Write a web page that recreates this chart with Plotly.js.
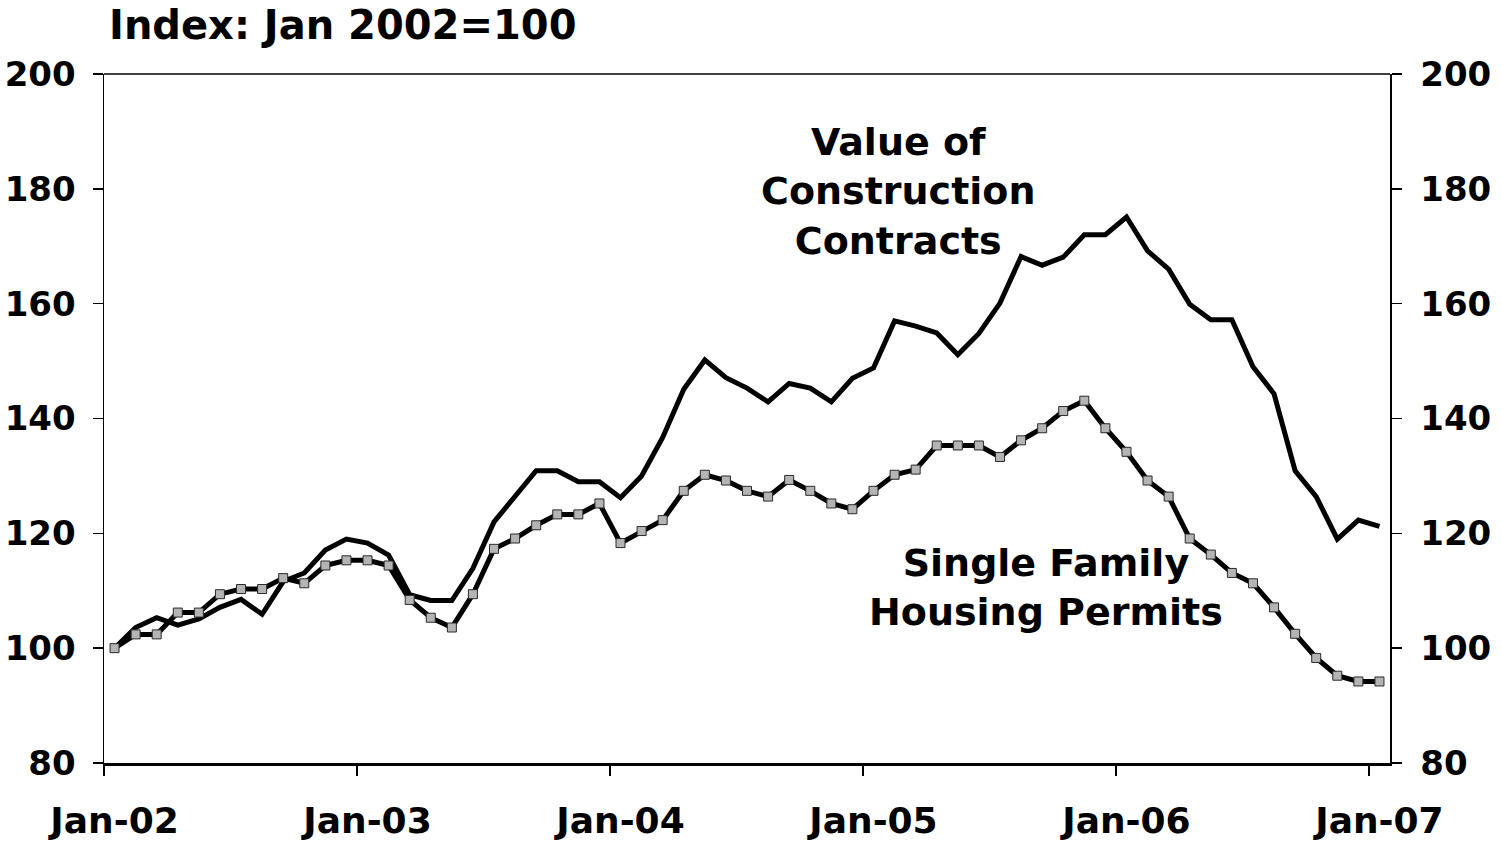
<!DOCTYPE html>
<html>
<head>
<meta charset="utf-8">
<script src="https://cdn.plot.ly/plotly-3.0.1.min.js"></script>
<style>html,body{margin:0;padding:0;background:#fff;}#chart{width:1501px;height:841px;}</style>
</head>
<body>
<div id="chart"></div>
<script>
// Monthly, Jan 2002 .. Jan 2007 (61 months)
const tickLabels = ["Jan-02", "Jan-03", "Jan-04", "Jan-05", "Jan-06", "Jan-07"];
const constructionContracts = [
  100, 103.6, 105.3, 104.0, 105.1, 107.1, 108.5, 105.9, 111.6, 113.1, 117.1, 119.0,
  118.3, 116.2, 109.3, 108.3, 108.3, 113.9, 122.0, 126.4, 130.9, 130.9, 129.0, 129.0,
  126.2, 130.0, 136.7, 145.1, 150.2, 147.1, 145.3, 142.9, 146.1, 145.3, 142.9, 147.0,
  148.8, 157.0, 156.1, 154.9, 151.1, 154.8, 160.1, 168.2, 166.7, 168.1, 172.0, 172.0,
  175.1, 169.2, 166.0, 159.9, 157.2, 157.2, 149.0, 144.3, 130.9, 126.4, 119.0, 122.3,
  121.2
];
const singleFamilyPermits = [
  100, 102.4, 102.4, 106.2, 106.2, 109.4, 110.3, 110.3, 112.2, 111.3, 114.4, 115.3,
  115.3, 114.4, 108.4, 105.3, 103.6, 109.4, 117.3, 119.1, 121.4, 123.3, 123.3, 125.2,
  118.3, 120.4, 122.3, 127.4, 130.2, 129.2, 127.4, 126.4, 129.3, 127.4, 125.2, 124.2,
  127.4, 130.2, 131.1, 135.3, 135.3, 135.3, 133.3, 136.2, 138.3, 141.3, 143.1, 138.3,
  134.2, 129.2, 126.4, 119.1, 116.3, 113.1, 111.3, 107.1, 102.5, 98.3, 95.2, 94.2,
  94.2
];

const monthIdx = constructionContracts.map((_, i) => i);
const labelVals = tickLabels.map((_, k) => k * 12);
const boundaryVals = tickLabels.map((_, k) => k * 12 - 0.5);

const FONT = "DejaVu Sans, Verdana, sans-serif";

const traces = [
  {
    x: monthIdx, y: constructionContracts, type: "scatter", mode: "lines",
    line: {color: "#000000", width: 5}, name: "Value of Construction Contracts",
    xaxis: "x", yaxis: "y", hoverinfo: "skip"
  },
  {
    x: monthIdx, y: singleFamilyPermits, type: "scatter", mode: "lines+markers",
    line: {color: "#000000", width: 5},
    marker: {symbol: "square", size: 9, color: "#b4b4b4", line: {color: "#2a2a2a", width: 1}},
    name: "Single Family Housing Permits", xaxis: "x2", yaxis: "y2", hoverinfo: "skip"
  }
];

const yCommon = {
  range: [80, 200], dtick: 20, tick0: 80, showgrid: false, zeroline: false,
  showline: true, linecolor: "#000", linewidth: 1.5,
  ticks: "outside", ticklen: 10, tickwidth: 1.5, tickcolor: "#000",
  tickfont: {family: FONT, size: 34, color: "#000", weight: "bold"}
};

const layout = {
  width: 1501, height: 841,
  margin: {l: 104, r: 111, t: 74, b: 78},
  paper_bgcolor: "#fff", plot_bgcolor: "#fff",
  showlegend: false,
  font: {family: FONT, color: "#000", weight: "bold"},
  xaxis: {
    range: [-0.5, 60.5], showgrid: false, zeroline: false,
    tickmode: "array", tickvals: labelVals, ticktext: tickLabels,
    ticks: "", ticklabelstandoff: 24,
    showline: true, linecolor: "#000", linewidth: 3,
    tickfont: {family: FONT, size: 36, color: "#000", weight: "bold"}
  },
  xaxis2: {
    range: [-0.5, 60.5], overlaying: "x", anchor: "y2", side: "bottom",
    showgrid: false, zeroline: false, showline: false,
    tickmode: "array", tickvals: boundaryVals, showticklabels: false,
    ticks: "outside", ticklen: 12, tickwidth: 1.5, tickcolor: "#000"
  },
  yaxis: Object.assign({}, yCommon, {side: "left", ticklabelstandoff: 10}),
  yaxis2: Object.assign({}, yCommon, {side: "right", overlaying: "y", anchor: "x2", ticklabelstandoff: 12}),
  shapes: [
    {type: "line", xref: "paper", yref: "paper", x0: 0, x1: 1, y0: 1, y1: 1,
     line: {color: "#000", width: 1.5}}
  ],
  annotations: [
    {text: "Index: Jan 2002=100", xref: "paper", yref: "paper", x: 0.002, y: 1.071,
     xanchor: "left", yanchor: "middle", showarrow: false,
     font: {family: FONT, size: 40, color: "#000", weight: "bold"}},
    {text: "Value of<br>Construction<br>Contracts", xref: "x", yref: "y", x: 37.2, y: 179.6,
     xanchor: "center", yanchor: "middle", showarrow: false,
     font: {family: FONT, size: 38, color: "#000", weight: "bold"}},
    {text: "Single Family<br>Housing Permits", xref: "x", yref: "y", x: 44.2, y: 110.6,
     xanchor: "center", yanchor: "middle", showarrow: false,
     font: {family: FONT, size: 38, color: "#000", weight: "bold"}}
  ]
};

Plotly.newPlot("chart", traces, layout, {staticPlot: true, displayModeBar: false});
</script>
</body>
</html>
